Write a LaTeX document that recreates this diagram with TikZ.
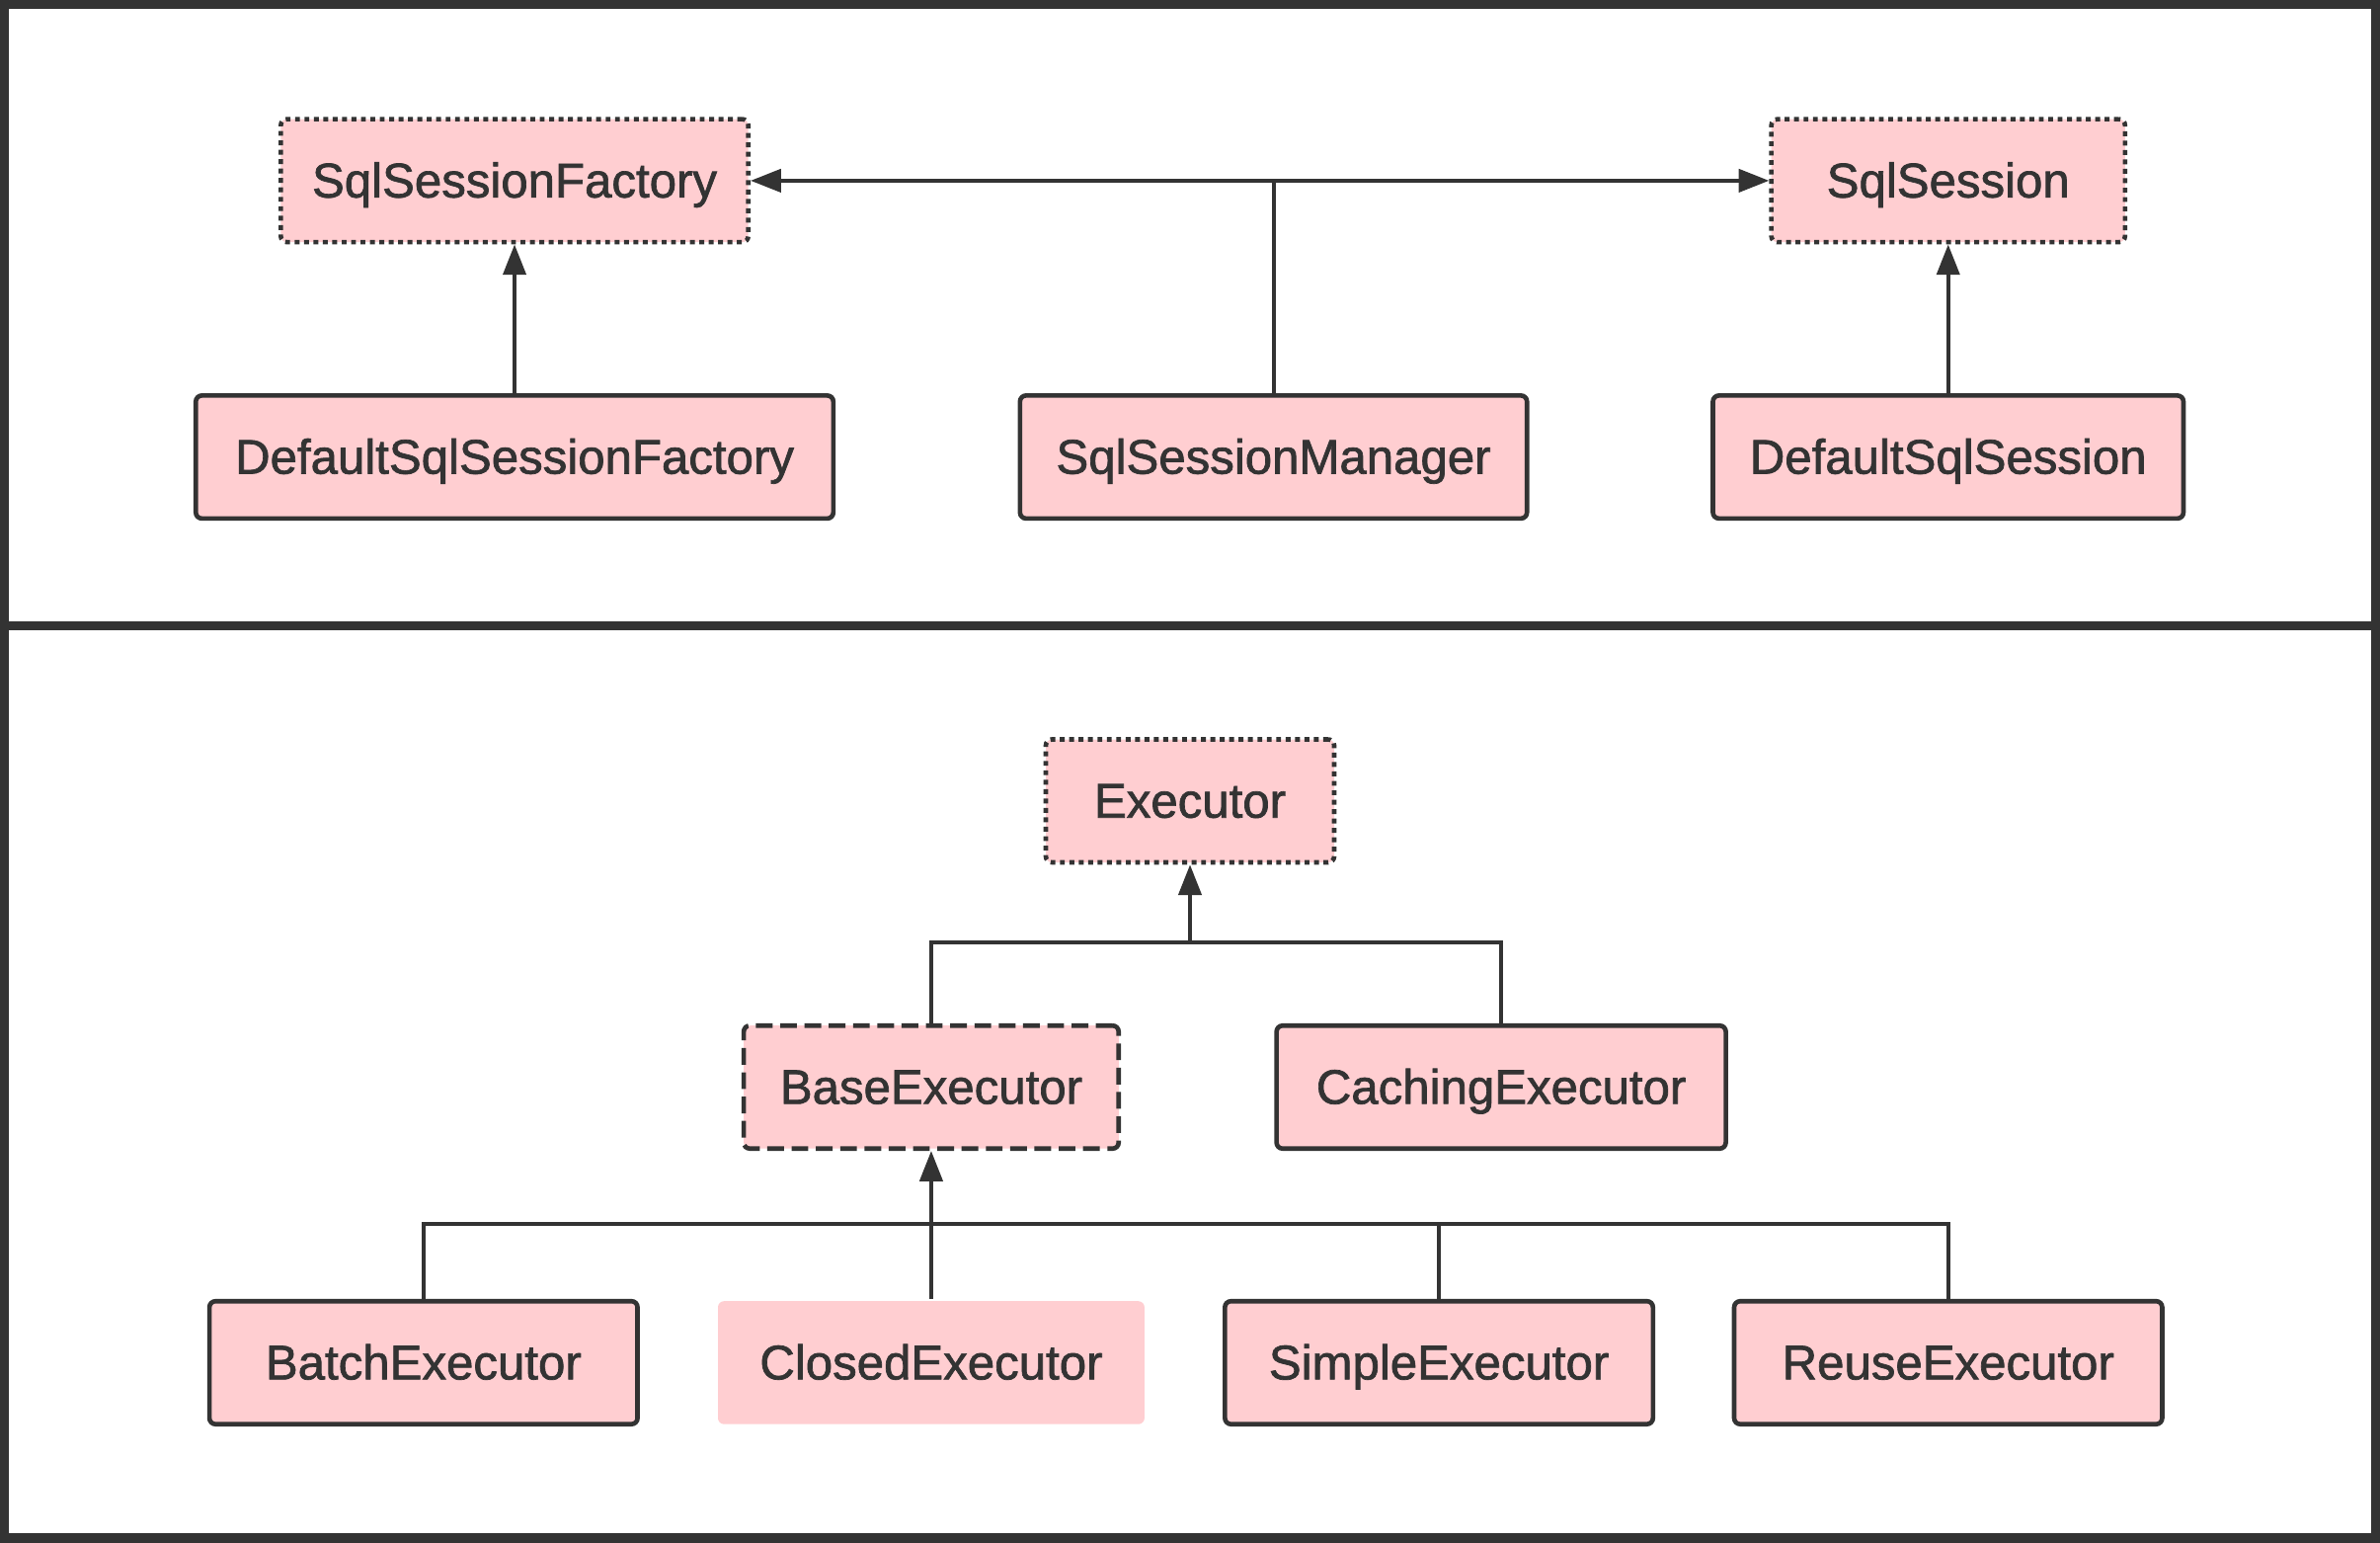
\documentclass[tikz,border=0pt]{standalone}
\usepackage{fontspec}
\setmainfont{Liberation Sans}
\newfontfamily\lblfont{Liberation Sans}[FakeBold=1.4]
\usepackage{tikz}
\usetikzlibrary{positioning,calc,arrows.meta}
\usepackage{xcolor}
\definecolor{ink}{HTML}{333333}
\definecolor{rose}{HTML}{FFCED1}

\begin{document}
\begin{tikzpicture}[x=1pt,y=-1pt,
    cls/.style={draw=ink,fill=rose,text=ink,rounded corners=4pt,line width=3pt,minimum height=81pt,inner sep=0pt,text height=22pt,text depth=0pt,font=\lblfont\fontsize{32}{38}\selectfont},
    iface/.style={cls,dash pattern=on 3.2pt off 3pt},
    abst/.style={cls,dash pattern=on 11pt off 5pt},
    bare/.style={cls,draw=none},
    wire/.style={draw=ink,line width=2.6pt},
    extends/.style={wire,-{Triangle[length=20pt,width=15pt]}}]

        \useasboundingbox (0,0) rectangle (1568,1016);
        \draw[ink,line width=6pt] (3,3) rectangle (1565,1013);
        \draw[ink,line width=6pt] (0,412) -- (1568,412);

        \node[iface,minimum width=308pt] (fac) at (339,119) {SqlSessionFactory};
        \node[iface,minimum width=233pt] (ses) at (1283.5,119) {SqlSession};
        \node[cls,minimum width=420pt] (dfac) at (339,301) {DefaultSqlSessionFactory};
        \node[cls,minimum width=334pt] (mgr) at (839,301) {SqlSessionManager};
        \node[cls,minimum width=310pt] (dses) at (1283.5,301) {DefaultSqlSession};

        \node[iface,minimum width=190pt] (exe) at (784,527.5) {Executor};
        \node[abst,minimum width=247pt] (base) at (613.5,716) {BaseExecutor};
        \node[cls,minimum width=296pt] (cach) at (989,716) {CachingExecutor};
        \node[cls,minimum width=282pt] (batch) at (279,897.5) {BatchExecutor};
        \node[bare,minimum width=281pt] (closed) at (613.5,897.5) {ClosedExecutor};
        \node[cls,minimum width=282pt] (simple) at (948,897.5) {SimpleExecutor};
        \node[cls,minimum width=282pt] (reuse) at (1283.5,897.5) {ReuseExecutor};

        \coordinate (top) at (mgr.north |- fac.east);
        \coordinate (j1) at (784,621);
        \coordinate (j2) at (613.5,806);

        \draw[wire] (mgr.north) -- (top);
        \draw[extends] (top) -- (fac.east);
        \draw[extends] (top) -- (ses.west);
        \draw[extends] (dfac.north) -- (fac.south);
        \draw[extends] (dses.north) -- (ses.south);

        \draw[wire] (base.north) |- (j1) -| (cach.north);
        \draw[extends] (j1) -- (exe.south);

        \draw[wire] (batch.north) |- (j2) -| (reuse.north);
        \draw[wire] (simple.north) -- (simple.north |- j2);
        \draw[extends] (closed.north) -- (base.south);
    \end{tikzpicture}
\end{document}
